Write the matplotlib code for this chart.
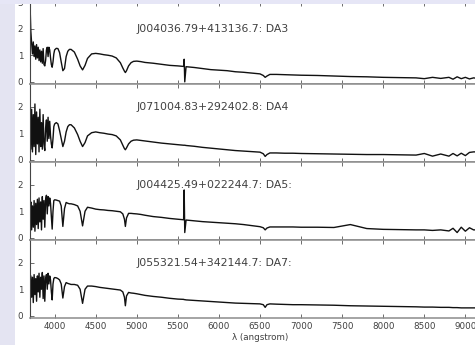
import matplotlib
matplotlib.use("Agg")
import matplotlib.pyplot as plt
from matplotlib.patches import Rectangle

# ---- data ----
wave = [
    3700, 3710, 3720, 3730, 3740, 3750, 3760, 3770, 3780, 3790,
    3800, 3810, 3820, 3830, 3840, 3850, 3860, 3870, 3880, 3890,
    3900, 3910, 3920, 3930, 3940, 3950, 3960, 3970, 3980, 3990,
    4000, 4020, 4040, 4060, 4080, 4100, 4120, 4140, 4160, 4180,
    4200, 4240, 4280, 4310, 4340, 4370, 4400, 4450, 4500, 4550,
    4600, 4650, 4700, 4750, 4800, 4830, 4850, 4861, 4875, 4900,
    4930, 4960, 5000, 5050, 5100, 5200, 5300, 5400, 5500, 5570,
    5577, 5584, 5600, 5700, 5800, 5900, 6000, 6100, 6200, 6300,
    6400, 6500, 6540, 6563, 6585, 6620, 6700, 6800, 6900, 7000,
    7200, 7400, 7600, 7800, 8000, 8200, 8400, 8500, 8600, 8700,
    8800, 8850, 8900, 8950, 9000, 9050, 9100, 9150, 9200, 9300,
]

flux_da3 = [
    2.95, 1.9, 1.45, 1.05, 1.5, 0.95, 1.35, 0.85, 1.4, 0.9,
    1.3, 0.8, 1.2, 0.75, 1.15, 0.7, 1.25, 0.65, 0.6, 0.8,
    1.2, 1.3, 0.95, 1.3, 1.2, 0.9, 0.65, 0.55, 0.75, 1.05,
    1.2, 1.26, 1.25, 1.1, 0.75, 0.42, 0.5, 0.95, 1.15, 1.22,
    1.22, 1.12, 0.85, 0.6, 0.45, 0.62, 0.88, 1.05, 1.07, 1.05,
    1.02, 1.0, 0.97, 0.9, 0.72, 0.52, 0.4, 0.35, 0.42, 0.6,
    0.72, 0.77, 0.78, 0.76, 0.73, 0.7, 0.66, 0.62, 0.6, 0.58,
    0.85, 0.0, 0.57, 0.54, 0.5, 0.46, 0.44, 0.42, 0.38, 0.36,
    0.33, 0.3, 0.24, 0.17, 0.22, 0.28, 0.28, 0.27, 0.26, 0.25,
    0.24, 0.22, 0.2, 0.19, 0.17, 0.16, 0.15, 0.12, 0.17, 0.13,
    0.17, 0.1, 0.19, 0.12, 0.17, 0.11, 0.15, 0.13, 0.14, 0.14,
]

flux_da4 = [
    2.0, 0.4, 1.9, 0.3, 1.7, 0.5, 2.1, 0.2, 1.8, 0.6,
    1.6, 0.3, 1.9, 0.5, 1.4, 0.4, 1.7, 0.6, 0.35, 1.2,
    1.5, 0.7, 1.6, 0.8, 1.45, 0.9, 0.6, 0.45, 0.8, 1.25,
    1.35, 1.4, 1.35, 1.1, 0.8, 0.5, 0.7, 1.05, 1.25, 1.32,
    1.32, 1.2, 0.95, 0.7, 0.5, 0.65, 0.9, 1.02, 1.05, 1.02,
    1.0, 0.97, 0.95, 0.9, 0.75, 0.55, 0.42, 0.38, 0.45, 0.6,
    0.7, 0.74, 0.75, 0.73, 0.71, 0.67, 0.63, 0.6, 0.57, 0.55,
    0.55, 0.55, 0.54, 0.51, 0.47, 0.44, 0.41, 0.38, 0.35, 0.33,
    0.31, 0.29, 0.23, 0.13, 0.2, 0.26, 0.26, 0.25, 0.25, 0.24,
    0.23, 0.22, 0.21, 0.2, 0.2, 0.19, 0.18, 0.24, 0.14, 0.22,
    0.14, 0.24, 0.15, 0.25, 0.16, 0.28, 0.3, 0.3, 0.3, 0.3,
]

flux_da5 = [
    0.9, 1.35, 0.3, 1.2, 0.4, 1.4, 0.25, 1.3, 0.5, 1.45,
    0.35, 1.5, 0.6, 1.35, 0.3, 1.55, 0.7, 1.4, 0.4, 1.45,
    1.6, 0.9, 1.55, 1.2, 1.5, 1.3, 0.8, 0.33, 1.0, 1.4,
    1.43, 1.42, 1.4, 1.38, 1.2, 0.43, 1.1, 1.33, 1.3, 1.28,
    1.28, 1.25, 1.2, 1.0, 0.45, 1.0, 1.15, 1.12, 1.08, 1.06,
    1.05, 1.03, 1.02, 1.0, 0.98, 0.9, 0.7, 0.43, 0.75, 0.92,
    0.92, 0.91, 0.9, 0.88, 0.85, 0.8, 0.77, 0.73, 0.7, 0.68,
    1.8, 0.2, 0.67, 0.64, 0.61, 0.59, 0.57, 0.55, 0.53, 0.5,
    0.46, 0.42, 0.38, 0.3, 0.37, 0.41, 0.41, 0.41, 0.41, 0.4,
    0.4, 0.39, 0.5, 0.35, 0.32, 0.31, 0.3, 0.3, 0.28, 0.3,
    0.26, 0.36, 0.2, 0.4, 0.25, 0.38, 0.3, 0.3, 0.3, 0.3,
]

flux_da7 = [
    0.6, 1.5, 0.7, 1.45, 0.5, 1.55, 0.8, 1.4, 0.55, 1.5,
    0.9, 1.6, 0.7, 1.45, 1.0, 1.63, 0.65, 1.5, 0.55, 1.4,
    1.55, 1.0, 1.6, 1.2, 1.5, 1.35, 0.9, 0.6, 1.2, 1.4,
    1.44, 1.43, 1.4, 1.35, 1.2, 0.67, 1.1, 1.25, 1.22, 1.2,
    1.18, 1.18, 1.15, 1.0, 0.47, 1.0, 1.12, 1.12, 1.1, 1.07,
    1.05, 1.03, 1.01, 0.99, 0.97, 0.9, 0.7, 0.38, 0.75, 0.88,
    0.86, 0.85, 0.83, 0.8, 0.77, 0.73, 0.7, 0.66, 0.63, 0.62,
    0.61, 0.61, 0.6, 0.58, 0.56, 0.54, 0.52, 0.5, 0.48, 0.47,
    0.46, 0.45, 0.42, 0.32, 0.42, 0.45, 0.44, 0.43, 0.42, 0.42,
    0.41, 0.4, 0.38, 0.37, 0.36, 0.35, 0.34, 0.33, 0.33, 0.32,
    0.32, 0.31, 0.31, 0.3, 0.3, 0.3, 0.3, 0.3, 0.3, 0.3,
]

labels = [
    "J004036.79+413136.7: DA3",
    "J071004.83+292402.8: DA4",
    "J004425.49+022244.7: DA5:",
    "J055321.54+342144.7: DA7:",
]
spectra = [flux_da3, flux_da4, flux_da5, flux_da7]
xticks = [4000, 4500, 5000, 5500, 6000, 6500, 7000, 7500, 8000, 8500, 9000]
xlabel = "λ (angstrom)"

# ---- figure ----
W, H = 475, 345
fig = plt.figure(figsize=(W / 100, H / 100), dpi=100, facecolor="white")

left = 30 / W
width = 460 / W
# (bottom px from top, height px, ylim top)
panels = [(84, 82, 3.0), (162, 78, 2.85), (240, 78, 2.85), (318, 78, 2.85)]

tick_col = "#555555"
txt_col = "#404040"
axes = []
for i, (bpx, hpx, ytop) in enumerate(panels):
    ax = fig.add_axes([left, (H - bpx) / H, width, hpx / H])
    ax.plot(wave, spectra[i], color="#111111", lw=1.0)
    ax.set_xlim(3700, 9300)
    ax.set_ylim(-0.08, ytop)
    ax.set_xticks(xticks)
    ax.set_yticks([0, 1, 2, 3] if i == 0 else [0, 1, 2])
    ax.tick_params(direction="in", length=3, width=0.6, color=tick_col,
                   labelsize=6.3, labelcolor=txt_col, pad=3,
                   top=True, bottom=True)
    ax.tick_params(axis="y", pad=5)
    if i < 3:
        ax.tick_params(axis="x", labelbottom=False)
    for s in ["top", "bottom"]:
        ax.spines[s].set_color("#8c8c8c")
        ax.spines[s].set_linewidth(1.1)
    ax.spines["left"].set_color("#444444")
    ax.spines["left"].set_linewidth(0.8)
    ax.spines["right"].set_visible(False)
    ax.text(5000, 2.0, labels[i], ha="left", va="center",
            fontsize=7.8, color=txt_col)
    axes.append(ax)

axes[-1].set_xlabel(xlabel, fontsize=6.3, color=txt_col, labelpad=1)

# slide background strips
fig.patches.append(Rectangle((0, 0), 15 / W, 1, transform=fig.transFigure,
                             facecolor="#e4e4f2", edgecolor="none", zorder=-5))
fig.patches.append(Rectangle((0, 1 - 4 / H), 1, 4 / H, transform=fig.transFigure,
                             facecolor="#e6e6f6", edgecolor="none", zorder=20))

fig.savefig("out.png", dpi=100, facecolor=fig.get_facecolor())
